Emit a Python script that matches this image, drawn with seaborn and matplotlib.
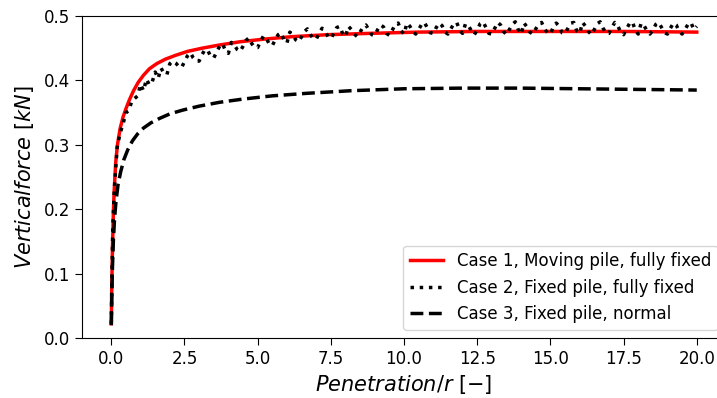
import numpy as np
import pandas as pd
import matplotlib
matplotlib.use("Agg")
import matplotlib.pyplot as plt
import seaborn as sns

# Case 1: moving pile, fully fixed boundary
x_case1 = [0, 0.01, 0.02, 0.04, 0.07, 0.1, 0.15, 0.21, 0.3, 0.4, 0.5, 0.62, 0.76,
           0.92, 1.1, 1.3, 1.55, 1.85, 2.2, 2.6, 3.1, 3.7, 4.4, 5.2, 6.2, 7.4,
           8.8, 10.5, 12.5, 15, 17.5, 20]
f_case1 = [0.022, 0.06, 0.09, 0.14, 0.194, 0.23, 0.272, 0.30, 0.325, 0.343, 0.356,
           0.370, 0.384, 0.397, 0.408, 0.418, 0.426, 0.433, 0.439, 0.445, 0.450,
           0.455, 0.460, 0.464, 0.468, 0.471, 0.473, 0.475, 0.476, 0.476, 0.476,
           0.475]

# Case 2: fixed pile, fully fixed boundary (oscillating response), sampled every 0.1
x_case2 = [0, 0.02, 0.05] + [round(0.1 * i, 1) for i in range(1, 201)]
f_case2 = [0.022, 0.09, 0.17,
           # 0.1 - 2.0
           0.228, 0.296, 0.318, 0.332, 0.350, 0.353, 0.368, 0.372, 0.376, 0.394,
           0.384, 0.402, 0.393, 0.398, 0.413, 0.403, 0.419, 0.411, 0.409, 0.426,
           # 2.1 - 4.0
           0.430, 0.427, 0.422, 0.420, 0.429, 0.438, 0.443, 0.435, 0.430, 0.430,
           0.440, 0.448, 0.446, 0.437, 0.435, 0.444, 0.453, 0.457, 0.446, 0.442,
           # 4.1 - 6.0
           0.459, 0.455, 0.448, 0.445, 0.453, 0.462, 0.466, 0.457, 0.451, 0.451,
           0.461, 0.469, 0.465, 0.456, 0.454, 0.463, 0.471, 0.474, 0.462, 0.458,
           # 6.1 - 8.0
           0.475, 0.471, 0.463, 0.460, 0.468, 0.476, 0.480, 0.471, 0.465, 0.464,
           0.473, 0.481, 0.477, 0.468, 0.465, 0.473, 0.482, 0.484, 0.473, 0.468,
           # 8.1 - 10.0
           0.484, 0.479, 0.472, 0.468, 0.475, 0.483, 0.486, 0.478, 0.471, 0.470,
           0.479, 0.486, 0.483, 0.473, 0.470, 0.478, 0.487, 0.489, 0.477, 0.472,
           # 10.1 - 12.0
           0.489, 0.484, 0.476, 0.472, 0.479, 0.487, 0.490, 0.481, 0.474, 0.473,
           0.482, 0.489, 0.485, 0.475, 0.472, 0.480, 0.488, 0.490, 0.478, 0.473,
           # 12.1 - 14.0
           0.488, 0.485, 0.477, 0.471, 0.478, 0.488, 0.491, 0.482, 0.473, 0.472,
           0.481, 0.490, 0.486, 0.476, 0.471, 0.479, 0.487, 0.491, 0.479, 0.472,
           # 14.1 - 16.0
           0.489, 0.483, 0.475, 0.472, 0.480, 0.487, 0.490, 0.480, 0.474, 0.472,
           0.483, 0.489, 0.484, 0.474, 0.473, 0.481, 0.489, 0.490, 0.477, 0.473,
           # 16.1 - 18.0
           0.490, 0.484, 0.476, 0.471, 0.479, 0.488, 0.491, 0.481, 0.473, 0.473,
           0.482, 0.490, 0.485, 0.475, 0.471, 0.480, 0.488, 0.491, 0.478, 0.472,
           # 18.1 - 20.0
           0.489, 0.485, 0.477, 0.472, 0.478, 0.487, 0.490, 0.482, 0.474, 0.472,
           0.481, 0.489, 0.486, 0.476, 0.472, 0.479, 0.487, 0.490, 0.479, 0.484]

# Case 3: fixed pile, normal boundary
x_case3 = [0, 0.02, 0.04, 0.07, 0.11, 0.16, 0.23, 0.32, 0.43, 0.56, 0.72, 0.9, 1.1,
           1.35, 1.65, 2.0, 2.45, 3.0, 3.7, 4.5, 5.5, 6.7, 8.2, 10, 12, 14, 16, 18, 20]
f_case3 = [0.02, 0.07, 0.11, 0.15, 0.185, 0.212, 0.238, 0.258, 0.277, 0.292, 0.306,
           0.317, 0.326, 0.334, 0.341, 0.348, 0.354, 0.360, 0.366, 0.371, 0.376,
           0.380, 0.384, 0.387, 0.388, 0.388, 0.387, 0.386, 0.385]

labels = ["Case 1, Moving pile, fully fixed",
          "Case 2, Fixed pile, fully fixed",
          "Case 3, Fixed pile, normal"]

plt.rcParams["font.family"] = ["DejaVu Sans"]
plt.rcParams["font.size"] = 12

fig = plt.figure(figsize=(7.17, 3.98), dpi=100)
ax = fig.add_axes([0.1144, 0.1508, 0.8982, 0.809])

sns.lineplot(x=x_case1, y=f_case1, ax=ax, color="red", linewidth=2.5,
             label=labels[0], estimator=None, sort=False)
sns.lineplot(x=x_case2, y=f_case2, ax=ax, color="black", linewidth=2.5,
             linestyle=":", label=labels[1], estimator=None, sort=False)
sns.lineplot(x=x_case3, y=f_case3, ax=ax, color="black", linewidth=2.5,
             linestyle="--", label=labels[2], estimator=None, sort=False)

ax.set_xlim(-1, 21)
ax.set_ylim(0, 0.5)
ax.set_xticks([0, 2.5, 5, 7.5, 10, 12.5, 15, 17.5, 20])
ax.set_yticks([0, 0.1, 0.2, 0.3, 0.4, 0.5])
ax.tick_params(labelsize=12, length=5)
ax.set_xlabel(r"$Penetration/r$ $[-]$", fontsize=15)
ax.set_ylabel(r"$Vertical force$ $[kN]$", fontsize=15, labelpad=6)
ax.legend(loc="lower right", fontsize=12)

fig.savefig("out.png", dpi=100)
